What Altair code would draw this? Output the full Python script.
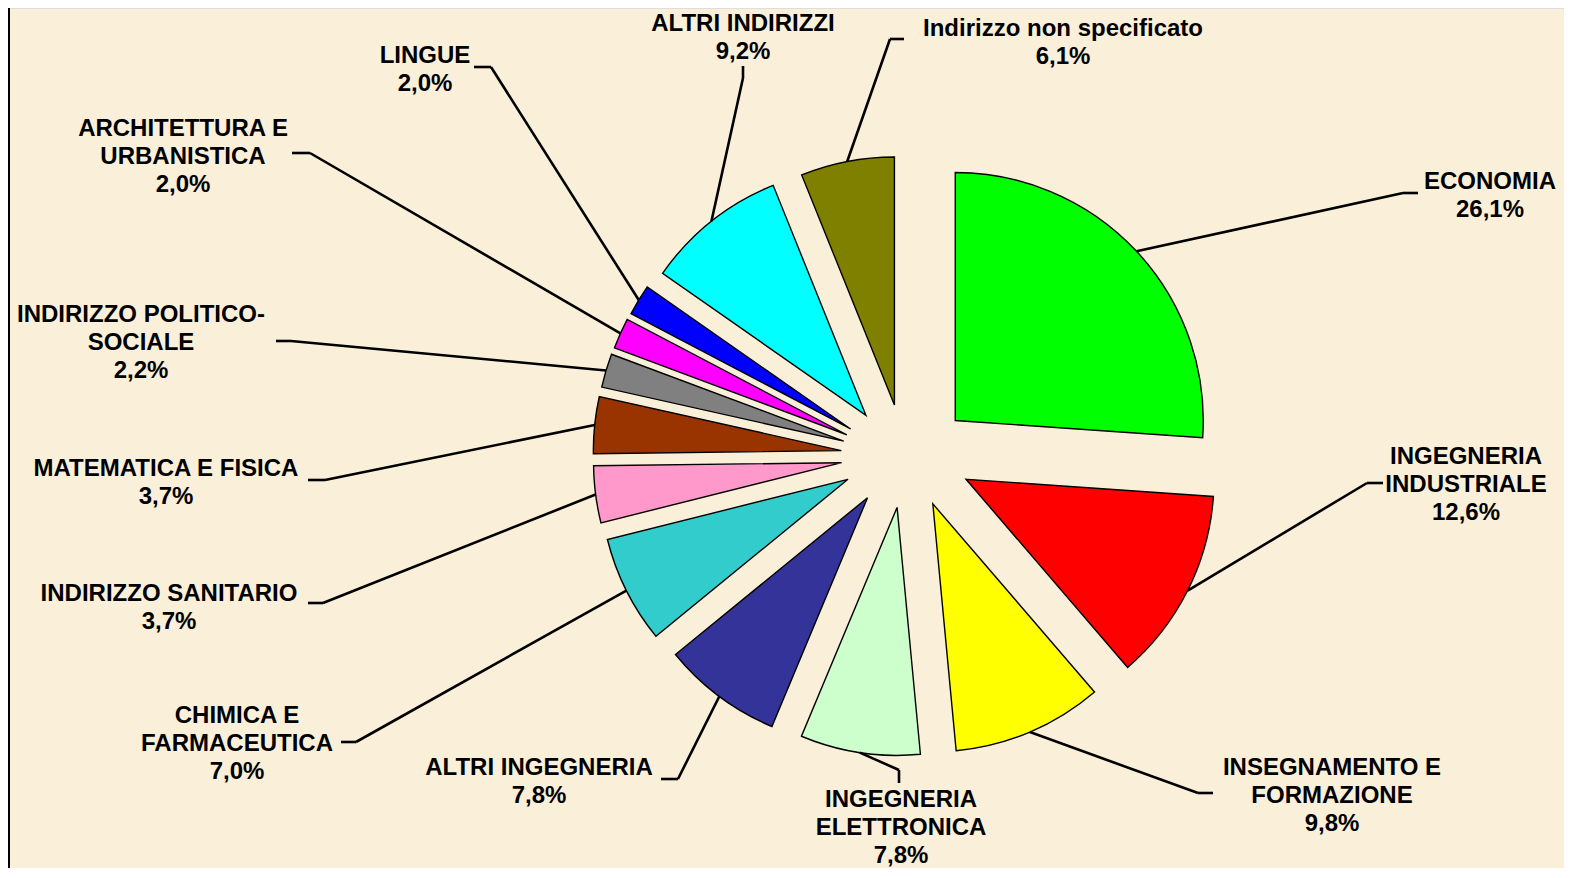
import altair as alt
import pandas as pd

# ---- data ----
categories = ["ECONOMIA", "INGEGNERIA INDUSTRIALE", "INSEGNAMENTO E FORMAZIONE",
              "INGEGNERIA ELETTRONICA", "ALTRI INGEGNERIA", "CHIMICA E FARMACEUTICA",
              "INDIRIZZO SANITARIO", "MATEMATICA E FISICA", "INDIRIZZO POLITICO-SOCIALE",
              "ARCHITETTURA E URBANISTICA", "LINGUE", "ALTRI INDIRIZZI",
              "Indirizzo non specificato"]
label_names = ["ECONOMIA", "INGEGNERIA\nINDUSTRIALE", "INSEGNAMENTO E\nFORMAZIONE",
               "INGEGNERIA\nELETTRONICA", "ALTRI INGEGNERIA", "CHIMICA E\nFARMACEUTICA",
               "INDIRIZZO SANITARIO", "MATEMATICA E FISICA", "INDIRIZZO POLITICO-\nSOCIALE",
               "ARCHITETTURA E\nURBANISTICA", "LINGUE", "ALTRI INDIRIZZI",
               "Indirizzo non specificato"]
percent = [26.1, 12.6, 9.8, 7.8, 7.8, 7.0, 3.7, 3.7, 2.2, 2.0, 2.0, 9.2, 6.1]
colors = ["#00FF00", "#FF0000", "#FFFF00", "#CCFFCC", "#333399", "#33CCCC",
          "#FF99CC", "#993300", "#808080", "#FF00FF", "#0000FF", "#00FFFF", "#808000"]

# ---- layout (page pixels) ----
OFF = 8
label_x = [1490, 1466, 1332, 901, 539, 237, 169, 166, 141, 183, 425, 743, 1063]
label_y = [180, 455, 766, 798, 766, 714, 592, 467, 313, 127, 54, 22, 27]
elbow_x = [1403, 1367, 1198, 899, 678, 356, 323, 325, 291, 310, 491, 743, 890]
elbow_y = [193, 483, 793, 770, 779, 742, 603, 480, 341, 153, 67, 78, 39]
end_x = [1418, 1383, 1213, 899, 661, 341, 308, 308, 276, 292, 474, 743, 904]
end_y = [193, 483, 793, 783, 779, 742, 603, 480, 341, 153, 67, 66, 39]
CX, CY, R = 907 - OFF, 456 - OFF, 248
DX, DY = 66, 52   # explode offset of each slice (horizontal / vertical)
FS = 24
W, H = 1556, 860

df = pd.DataFrame({
    "idx": list(range(len(categories))),
    "category": categories,
    "value": percent,
    "label": [n + "\n" + f"{v:.1f}".replace(".", ",") + "%" for n, v in zip(label_names, percent)],
    "lx": [x - OFF for x in label_x],
    "ly": [y - OFF - 10.5 for y in label_y],
    "ex": [x - OFF for x in elbow_x],
    "ey": [y - OFF for y in elbow_y],
    "tx": [x - OFF for x in end_x],
    "ty": [y - OFF for y in end_y],
})

base = (
    alt.Chart(df)
    .transform_window(cum="sum(value)", sort=[alt.SortField("idx")], frame=[None, 0])
    .transform_joinaggregate(total="sum(value)")
    .transform_calculate(
        t1="datum.cum / datum.total * 2 * PI",
        t0="(datum.cum - datum.value) / datum.total * 2 * PI",
    )
    .transform_calculate(tm="(datum.t0 + datum.t1) / 2")
    .transform_calculate(
        cx=f"{CX} + {DX} * sin(datum.tm)",
        cy=f"{CY} - {DY} * cos(datum.tm)",
    )
    .transform_calculate(
        sx=f"datum.cx + {R} * sin(datum.tm)",
        sy=f"datum.cy - {R} * cos(datum.tm)",
    )
)

arcs = base.mark_arc(radius=R, stroke="black", strokeWidth=1.4).encode(
    x=alt.X("cx:Q", scale=None),
    y=alt.Y("cy:Q", scale=None),
    theta=alt.Theta("t0:Q", scale=None),
    theta2="t1:Q",
    color=alt.Color("category:N", scale=alt.Scale(domain=categories, range=colors), legend=None),
)

lead1 = base.mark_rule(color="black", strokeWidth=2.6).encode(
    x=alt.X("sx:Q", scale=None), y=alt.Y("sy:Q", scale=None), x2="ex:Q", y2="ey:Q"
)
lead2 = base.mark_rule(color="black", strokeWidth=2.6).encode(
    x=alt.X("ex:Q", scale=None), y=alt.Y("ey:Q", scale=None), x2="tx:Q", y2="ty:Q"
)

labels = base.mark_text(
    font="Liberation Sans", fontWeight="bold", fontSize=FS, lineHeight=28,
    align="center", baseline="top", lineBreak="\n", color="black",
).encode(
    x=alt.X("lx:Q", scale=None), y=alt.Y("ly:Q", scale=None), text="label:N"
)

border = alt.Chart(pd.DataFrame({"b": [0]})).mark_rule(color="black", strokeWidth=2).encode(
    x=alt.value(1), y=alt.value(0), y2=alt.value(H)
)

chart = (
    alt.layer(arcs, lead1, lead2, labels, border)
    .properties(width=W, height=H, padding=0, autosize=alt.AutoSizeParams(type="none"))
    .configure_view(stroke=None)
    .configure(background="#FAF0DA")
)

chart.save("out.html", embed_options={"renderer": "svg", "actions": False})
